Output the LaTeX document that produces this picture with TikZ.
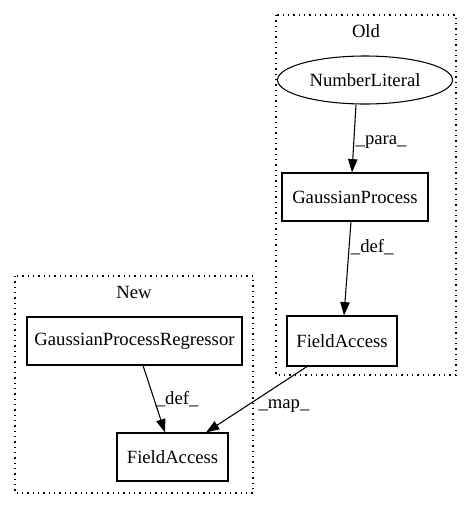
\documentclass[tikz,border=0pt]{standalone}
\usepackage{fontspec}
\setmainfont{Liberation Serif}
\usetikzlibrary{arrows.meta,shapes.geometric}
\begin{document}
\begin{tikzpicture}[x=0.75pt,y=-0.75pt,
  every node/.style={font=\fontsize{14pt}{16pt}\selectfont},
  box/.style={draw,line width=0.8pt,rectangle,inner sep=0pt},
  clusterbox/.style={draw,line width=0.8pt,dash pattern=on 1pt off 3pt},
  edge/.style={draw,line width=0.8pt,-{Triangle[length=10pt,width=7pt]}},
  elabel/.style={inner sep=1pt}]
\useasboundingbox (0,0) rectangle (472,508);
% clusters
\draw[clusterbox] (276,15) rectangle (456,375);
\node (oldlbl) at (366,31) {Old};
\draw[clusterbox] (15,276) rectangle (253,493);
\node (newlbl) at (134,292) {New};
% nodes
\node[draw,line width=0.8pt,ellipse,minimum width=175*0.75pt,minimum height=48*0.75pt,inner sep=0pt] (nl) at (365,80) {NumberLiteral};
\node[box,minimum width=146*0.75pt,minimum height=48*0.75pt] (gp) at (355,197) {GaussianProcess};
\node[box,minimum width=110*0.75pt,minimum height=50*0.75pt] (fao) at (342,341) {FieldAccess};
\node[box,minimum width=215*0.75pt,minimum height=48*0.75pt] (gpr) at (134.5,341) {GaussianProcessRegressor};
\node[box,minimum width=111*0.75pt,minimum height=48*0.75pt] (fan) at (172.5,457) {FieldAccess};
% edges
\draw[edge] (nl.south -| 356,0) -- (gp.north -| 352,0) node[elabel,pos=0.55,right] {\_para\_};
\draw[edge] (gp.south -| 351,0) -- (fao.north -| 344,0) node[elabel,pos=0.27,right] {\_def\_};
\draw[edge] (gpr.south -| 143,0) -- (fan.north -| 165,0) node[elabel,pos=0.5,right] {\_def\_};
\draw[edge] (fao.south -| 307,0) -- (fan.north -| 206,0);
\node[elabel] (maplbl) at (284,406) {\_map\_};
\end{tikzpicture}
\end{document}
